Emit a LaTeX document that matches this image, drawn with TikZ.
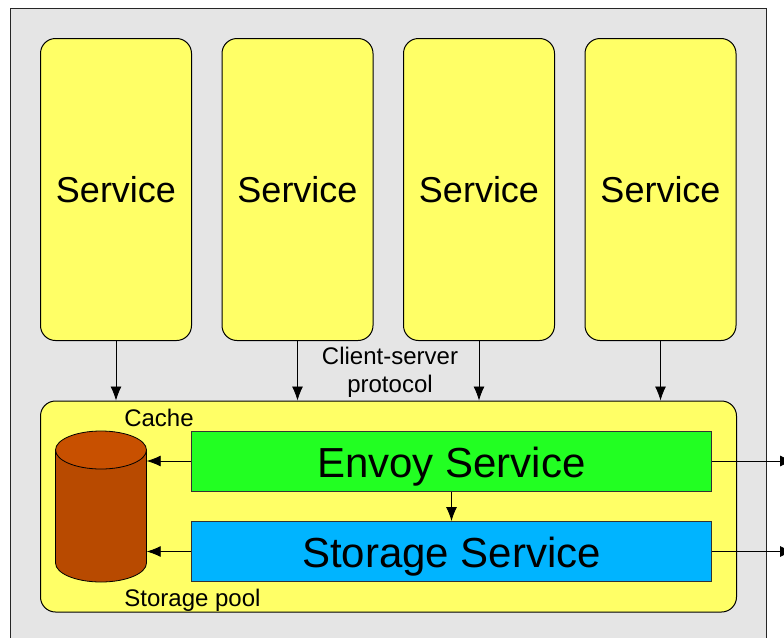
\documentclass[tikz,border=0pt]{standalone}
\usepackage{fontspec}
\setmainfont{Liberation Sans}
\usetikzlibrary{arrows.meta}

\definecolor{hostgray}{HTML}{E5E5E5}
\definecolor{svcyellow}{HTML}{FFFF66}
\definecolor{envoygreen}{HTML}{22FF22}
\definecolor{storeblue}{HTML}{00B4FF}
\definecolor{poolbody}{HTML}{B84A00}
\definecolor{pooltop}{HTML}{C85000}

\tikzset{
    svcbox/.style={draw=black,fill=svcyellow,rounded corners=15pt,line width=1pt,inner sep=0pt},
    layerbox/.style={draw=black!80,line width=1pt,minimum width=520pt,minimum height=60pt,inner sep=0pt,text height=32pt,text depth=0pt},
    bigfont/.style={font=\fontsize{36}{40}\selectfont},
    hugefont/.style={font=\fontsize{42}{46}\selectfont},
    smallfont/.style={font=\fontsize{24}{27}\selectfont},
    link/.style={draw=black,line width=.8pt,-{Latex[length=14pt,width=11pt]}}
}

\begin{document}
\begin{tikzpicture}[x=1pt,y=-1pt]
    \useasboundingbox (0,0) rectangle (784,637);
    \clip (0,0) rectangle (784,637);
    \node[draw=black!85,fill=hostgray,line width=1pt,minimum width=756pt,minimum height=680pt,inner sep=0pt] (host) at (388.5,348.5) {};

    \foreach \name/\xpos in {svc1/116,svc2/297.5,svc3/479,svc4/660.5}
        \node[svcbox,bigfont,minimum width=151pt,minimum height=302pt] (\name) at (\xpos,189.5) {Service};

    \node[svcbox,minimum width=696pt,minimum height=211pt] (host box) at (388.5,506.5) {};

    \node[layerbox,fill=envoygreen,hugefont] (envoy) at (451.5,461) {Envoy Service};
    \node[layerbox,fill=storeblue,hugefont] (storage) at (451.5,551.5) {Storage Service};

    % the drum, with a bare node for the arrows to end on
    \draw[line width=.8pt,fill=poolbody] (55.5,450) -- (55.5,563) arc[start angle=180,end angle=360,x radius=45.5pt,y radius=19pt] -- (146.5,450) -- cycle;
    \draw[line width=.8pt,fill=pooltop] (101,450) ellipse[x radius=45.5pt,y radius=19pt];
    \node[minimum width=91pt,minimum height=151pt,inner sep=0pt] (pool) at (101,506.5) {};

    \node[smallfont] (cache) at (159,418) {Cache};
    \node[smallfont] (poollabel) at (192.5,600) {Storage pool};
    \node[font=\fontsize{24}{28}\selectfont,align=center] (protocol) at (390,372.5) {Client-server\\protocol};

    \coordinate (out1) at (794,461);
    \coordinate (out2) at (794,551.5);

    \foreach \name in {svc1,svc2,svc3,svc4}
        \draw[link] (\name.south) -- (\name.south |- host box.north);
    \draw[link] (envoy.west) -- (envoy.west -| pool.east);
    \draw[link] (storage.west) -- (storage.west -| pool.east);
    \draw[link] (envoy.south) -- (storage.north);
    \draw[link] (envoy.east) -- (out1);
    \draw[link] (storage.east) -- (out2);
\end{tikzpicture}
\end{document}
